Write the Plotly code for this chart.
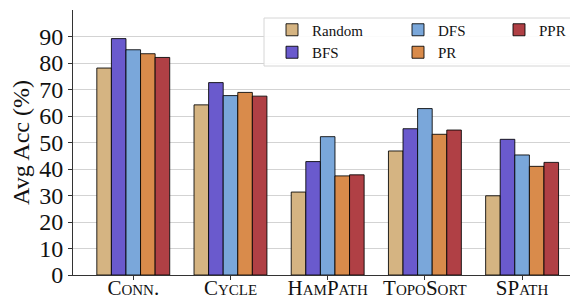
import plotly.graph_objects as go

categories = ["Conn.", "Cycle", "HamPath", "TopoSort", "SPath"]
methods = ["Random", "BFS", "DFS", "PR", "PPR"]
random_vals = [78.1, 64.2, 31.3, 46.8, 29.9]
bfs_vals = [89.2, 72.6, 42.8, 55.2, 51.2]
dfs_vals = [85.0, 67.7, 52.2, 62.8, 45.3]
pr_vals = [83.5, 68.9, 37.4, 53.1, 41.0]
ppr_vals = [82.1, 67.5, 37.8, 54.7, 42.5]
y_ticks = [0, 10, 20, 30, 40, 50, 60, 70, 80, 90]

series = [random_vals, bfs_vals, dfs_vals, pr_vals, ppr_vals]
colors = ["#D5B482", "#6A5ACD", "#7AA7DA", "#D98B4B", "#B04045"]
legend_ids = ["legend", "legend", "legend2", "legend2", "legend3"]

FONT = "Liberation Serif, Times New Roman, serif"

fig = go.Figure()
for name, vals, col, lg in zip(methods, series, colors, legend_ids):
    fig.add_trace(go.Bar(
        x=categories, y=vals, name=name,
        marker=dict(color=col, line=dict(color="rgba(0,0,0,0.85)", width=1)),
        legend=lg,
    ))

# the page body has an 8px default margin; size the figure to fill the window
OFF = 8
W, H = 578 - OFF, 300 - OFF
# plot area in window pixels: left 73, top 10, right 578, bottom 275
ml, mt = 73 - OFF, 10 - OFF
mr, mb = 0, H - (275 - OFF)
pw, ph = W - ml - mr, H - mt - mb

def px2paper(px, py):
    return (px - OFF - ml) / pw, (H - mb - (py - OFF)) / ph

lx0, ly0 = px2paper(264, 66)
lx1, ly1 = px2paper(573, 18)

legend_common = dict(
    orientation="v", xanchor="left", yanchor="top",
    bgcolor="rgba(0,0,0,0)", borderwidth=0,
    font=dict(family=FONT, size=15, color="#111"),
    itemwidth=30, tracegroupgap=0,
)
ly_top = px2paper(0, 13.5)[1]

fig.update_layout(
    width=W, height=H,
    margin=dict(l=ml, r=mr, t=mt, b=mb, pad=0),
    paper_bgcolor="white", plot_bgcolor="white",
    barmode="group", bargap=0.25, bargroupgap=0,
    font=dict(family=FONT, color="#111"),
    legend=dict(x=px2paper(272, 0)[0], y=ly_top, **legend_common),
    legend2=dict(x=px2paper(398, 0)[0], y=ly_top, **legend_common),
    legend3=dict(x=px2paper(499, 0)[0], y=ly_top, **legend_common),
    shapes=[dict(
        type="rect", xref="paper", yref="paper",
        x0=lx0, x1=lx1, y0=ly0, y1=ly1,
        fillcolor="rgba(255,255,255,0.9)",
        line=dict(color="#d6d6d6", width=1), layer="above",
    )],
    xaxis=dict(
        range=[-0.62, 4.575],
        showgrid=False, showline=True, linecolor="#333", linewidth=1,
        ticks="outside", ticklen=4, tickcolor="#333",
        tickfont=dict(family=FONT, size=21, color="#111", variant="small-caps"),
        ticklabelstandoff=-10,
        zeroline=False, automargin=False,
    ),
    yaxis=dict(
        range=[0, 100], tickvals=y_ticks,
        showgrid=True, gridcolor="#d3d3d3", gridwidth=1,
        showline=True, linecolor="#333", linewidth=1,
        ticks="outside", ticklen=4, tickcolor="#333",
        tickfont=dict(family=FONT, size=24, color="#111"),
        title=dict(text="Avg Acc (%)", font=dict(family=FONT, size=24, color="#111"), standoff=6),
        zeroline=False, automargin=False,
    ),
)

fig.write_html("out.html")
